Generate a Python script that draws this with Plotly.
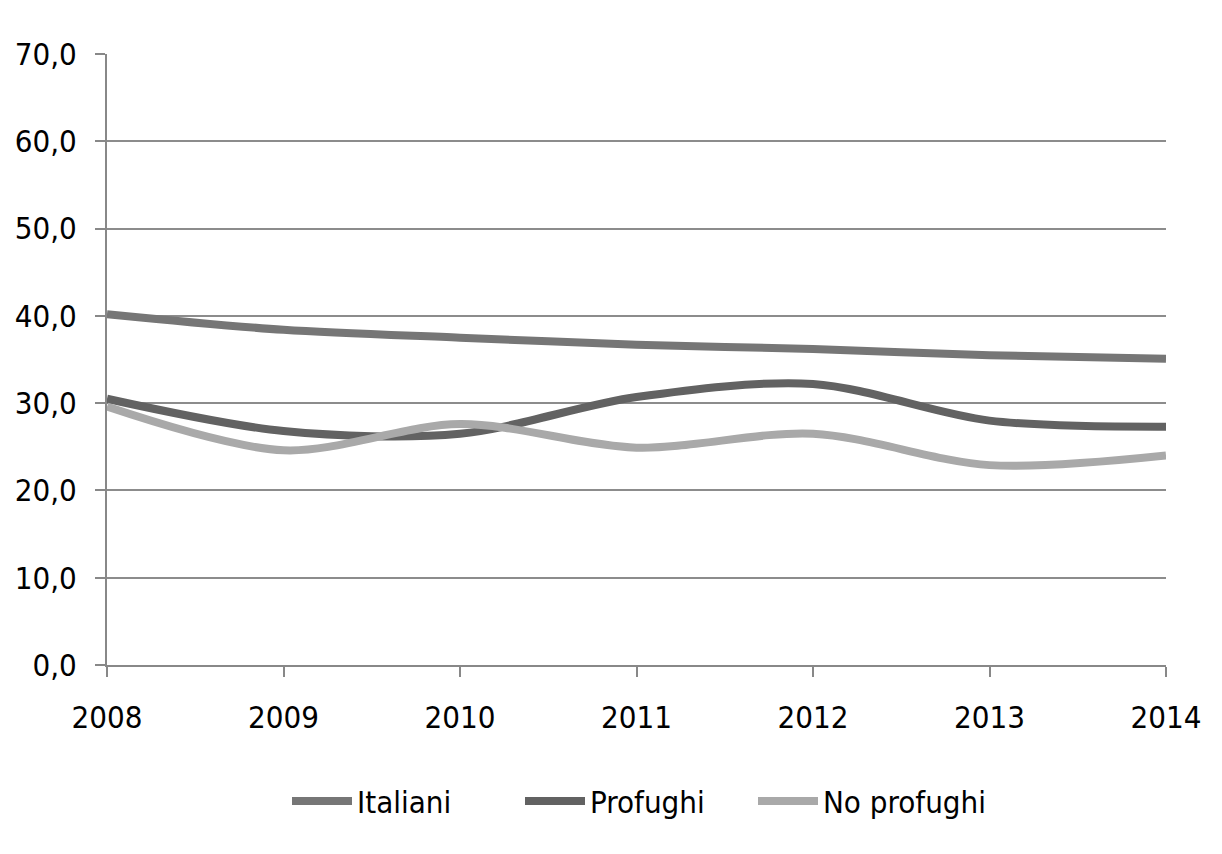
import plotly.graph_objects as go

years = [2008, 2009, 2010, 2011, 2012, 2013, 2014]
italiani = [40.2, 38.4, 37.5, 36.7, 36.2, 35.5, 35.1]
profughi = [30.5, 26.8, 26.5, 30.7, 32.2, 28.0, 27.3]
no_profughi = [29.6, 24.6, 27.6, 24.9, 26.5, 22.9, 24.0]

series = [
    ("Italiani", italiani, "#767676"),
    ("Profughi", profughi, "#626262"),
    ("No profughi", no_profughi, "#a9a9a9"),
]

fig = go.Figure()
for name, vals, col in series:
    fig.add_trace(go.Scatter(
        x=years, y=vals, name=name, mode="lines",
        line=dict(color=col, width=8, shape="spline", smoothing=0.9),
    ))

font_family = "DejaVu Sans Condensed, Liberation Sans Narrow, sans-serif"
fs = 31
fig.update_layout(
    width=1222, height=854,
    paper_bgcolor="white", plot_bgcolor="white",
    margin=dict(l=99, r=64, t=46, b=197),
    font=dict(family=font_family, size=fs, color="black"),
    separators=",.",
    showlegend=True,
    legend=dict(orientation="h", x=0.5, xanchor="center", y=-0.223, yanchor="middle",
                font=dict(size=fs), itemwidth=60, entrywidth=158),
    xaxis=dict(
        range=[2008, 2014], tickvals=years, ticktext=[str(y) for y in years],
        showgrid=False, showline=True, linecolor="#888888", linewidth=2,
        ticks="outside", ticklen=10, tickcolor="#888888", tickwidth=2,
        zeroline=False, tickfont=dict(size=fs), ticklabelstandoff=14,
        automargin=False,
    ),
    yaxis=dict(
        range=[0, 70], dtick=10, tickformat=".1f",
        showgrid=True, gridcolor="#8c8c8c", gridwidth=2,
        showline=True, linecolor="#888888", linewidth=2,
        ticks="outside", ticklen=10, tickcolor="#888888", tickwidth=2,
        zeroline=False, tickfont=dict(size=fs), ticklabelstandoff=12,
        automargin=False,
    ),
)

fig.write_html("out.html")
